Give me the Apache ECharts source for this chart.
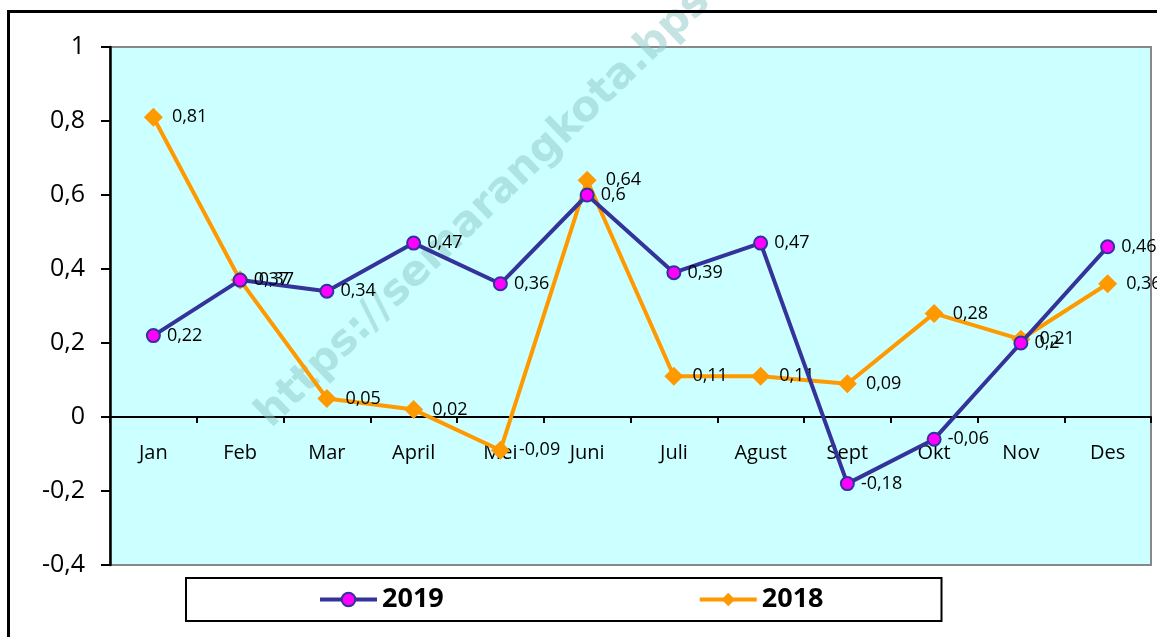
<!DOCTYPE html>
<html>
<head>
<meta charset="utf-8">
<script src="https://cdn.jsdelivr.net/npm/echarts@6/dist/echarts.min.js"></script>
<style>
html,body{margin:0;padding:0;background:#fff;}
#chart{width:1157px;height:637px;}
</style>
</head>
<body>
<div id="chart"></div>
<script>
var categories = ['Jan','Feb','Mar','April','Mei','Juni','Juli','Agust','Sept','Okt','Nov','Des'];
var values2019 = [0.22,0.37,0.34,0.47,0.36,0.6,0.39,0.47,-0.18,-0.06,0.2,0.46];
var values2018 = [0.81,0.37,0.05,0.02,-0.09,0.64,0.11,0.11,0.09,0.28,0.21,0.36];
var yTicks = [-0.4,-0.2,0,0.2,0.4,0.6,0.8,1];
var watermarkText = 'https://semarangkota.bps.go.id';

var FONT = '"Open Sans", Lato, sans-serif';
function fmt(v){ return String(v).replace('.', ','); }

var chart = echarts.init(document.getElementById('chart'));
chart.setOption({
  animation: false,
  backgroundColor: '#ffffff',
  graphic: [
    {
      type: 'rect', z: 100, silent: true,
      shape: { x: 8.5, y: 11.5, width: 1400, height: 900 },
      style: { fill: 'none', stroke: '#000', lineWidth: 3 }
    },
    {
      type: 'text', z: 1, silent: true,
      x: 278, y: 436, rotation: 44 * Math.PI / 180,
      style: {
        text: watermarkText, fill: 'rgba(140,200,200,0.5)',
        font: 'bold 42px "DejaVu Sans", sans-serif',
        textAlign: 'left', textVerticalAlign: 'bottom'
      }
    }
  ],
  grid: {
    left: 110, right: 6, top: 47, bottom: 72,
    show: true, backgroundColor: '#CCFFFF',
    borderColor: '#888', borderWidth: 2
  },
  legend: {
    left: 186, top: 578,
    padding: [8, 118, 8, 132],
    borderColor: '#000', borderWidth: 2,
    backgroundColor: '#fff',
    itemGap: 254, itemWidth: 57, itemHeight: 17,
    lineStyle: { width: 4 },
    textStyle: { fontFamily: FONT, fontWeight: 'bold', fontSize: 27, color: '#000' },
    data: ['2019', '2018']
  },
  xAxis: {
    type: 'category',
    data: categories,
    boundaryGap: true,
    axisLine: { onZero: true, lineStyle: { color: '#000', width: 2 } },
    axisTick: { show: true, length: 6, lineStyle: { color: '#000', width: 2 } },
    axisLabel: { margin: -122, fontFamily: FONT, fontSize: 20, color: '#000' },
    splitLine: { show: false }
  },
  yAxis: {
    type: 'value',
    min: -0.4, max: 1, interval: 0.2,
    axisLine: { show: true, lineStyle: { color: '#000', width: 2.5 } },
    axisTick: { show: true, length: 9, lineStyle: { color: '#000', width: 2 } },
    axisLabel: {
      margin: 25, fontFamily: FONT, fontSize: 25, color: '#000',
      formatter: function (v) {
        var r = Math.round(v * 10) / 10;
        return fmt(r);
      }
    },
    splitLine: { show: false }
  },
  series: [
    {
      name: '2019', type: 'line', data: values2019, z: 3,
      symbol: 'circle', symbolSize: 13,
      lineStyle: { color: '#333399', width: 4 },
      itemStyle: { color: '#FF00FF', borderColor: '#333399', borderWidth: 2 },
      label: {
        show: true, position: 'right', distance: 6,
        fontFamily: FONT, fontSize: 18, color: '#000',
        formatter: function (p) { return fmt(p.value); }
      }
    },
    {
      name: '2018', type: 'line', data: values2018, z: 2,
      symbol: 'diamond', symbolSize: 19,
      lineStyle: { color: '#FF9900', width: 4 },
      itemStyle: { color: '#FF9900', borderColor: '#FF9900', borderWidth: 0 },
      label: {
        show: true, position: 'right', distance: 9,
        fontFamily: FONT, fontSize: 18, color: '#000',
        formatter: function (p) { return fmt(p.value); }
      }
    }
  ]
});
</script>
</body>
</html>
